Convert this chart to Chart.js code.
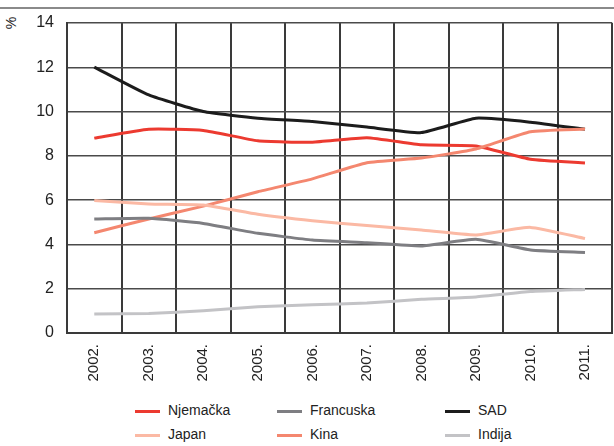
<!DOCTYPE html>
<html>
<head>
<meta charset="utf-8">
<script src="https://cdn.jsdelivr.net/npm/chart.js@4"></script>
<style>
  html, body { margin: 0; padding: 0; background: #fff; }
  body { width: 614px; height: 446px; position: relative; overflow: hidden;
         font-family: "Liberation Sans Narrow", "Arial Narrow", "Liberation Sans", sans-serif; color: #222; }
  #topRule { position: absolute; left: 0; top: 7px; width: 614px; height: 0; border-top: 2px solid #8a8a8a; }
  #unit { position: absolute; left: 5px; top: 15px; font-size: 14px; transform: rotate(-90deg); transform-origin: center; }
  #wrap { position: absolute; left: 0; top: 0; width: 614px; height: 400px; }
  #legend { position: absolute; left: 0; top: 402px; width: 614px; }
  .item { position: absolute; font-size: 14px; line-height: 16px; white-space: nowrap; }
  .item span.sw { display: inline-block; width: 25px; height: 3px; vertical-align: middle; margin-right: 8px; }
</style>
</head>
<body>
<div id="topRule"></div>
<div id="unit">%</div>
<div id="wrap"><canvas id="chart"></canvas></div>
<div id="legend"></div>
<script>
const years = ["2002.", "2003.", "2004.", "2005.", "2006.", "2007.", "2008.", "2009.", "2010.", "2011."];
const yTicks = [0, 2, 4, 6, 8, 10, 12, 14];

const njemacka  = [8.8, 9.2, 9.15, 8.68, 8.62, 8.82, 8.5, 8.45, 7.85, 7.68];
const francuska = [5.15, 5.18, 4.95, 4.5, 4.2, 4.08, 3.93, 4.23, 3.75, 3.64];
const sad       = [12.01, 10.75, 10.0, 9.7, 9.55, 9.3, 9.05, 9.7, 9.52, 9.2];
const japan     = [5.98, 5.83, 5.78, 5.36, 5.07, 4.85, 4.65, 4.43, 4.77, 4.27];
const kina      = [4.53, 5.15, 5.73, 6.38, 6.96, 7.69, 7.9, 8.31, 9.09, 9.21];
const indija    = [0.86, 0.88, 1.0, 1.18, 1.28, 1.35, 1.52, 1.63, 1.87, 1.97];

const series = [
  { label: "Njemačka",  data: njemacka,  color: "#ec3a30" },
  { label: "Francuska", data: francuska, color: "#7e7e82" },
  { label: "SAD",       data: sad,       color: "#1c1c1c" },
  { label: "Japan",     data: japan,     color: "#fbb9a4" },
  { label: "Kina",      data: kina,      color: "#f4876f" },
  { label: "Indija",    data: indija,    color: "#c3c3c6" }
];

// draw order: light lines first, dark on top
const drawOrder = [5, 3, 1, 4, 0, 2];

new Chart(document.getElementById("chart"), {
  type: "line",
  data: {
    labels: years,
    datasets: series.map((s, i) => ({
      label: s.label,
      data: s.data,
      borderColor: s.color,
      backgroundColor: s.color,
      borderWidth: 3,
      pointRadius: 0,
      fill: false,
      tension: 0.15,
      order: drawOrder.indexOf(i)
    }))
  },
  options: {
    responsive: true,
    maintainAspectRatio: false,
    animation: false,
    layout: { padding: { top: 23, right: 0, left: 0, bottom: 0 } },
    plugins: { legend: { display: false }, tooltip: { enabled: false } },
    scales: {
      x: {
        offset: true,
        grid: { color: "#3a3a3a", lineWidth: 2, offset: true, drawTicks: false },
        border: { color: "#3a3a3a", width: 2 },
        ticks: {
          minRotation: 90, maxRotation: 90, padding: 11,
          color: "#222",
          font: { family: "Liberation Sans Narrow, Arial Narrow, sans-serif", size: 15 }
        },
        afterFit: scale => { scale.height = 67; }
      },
      y: {
        min: 0, max: 14,
        afterBuildTicks: scale => { scale.ticks = yTicks.map(v => ({ value: v })); },
        grid: { color: "#4a4a4a", lineWidth: 1.5, drawTicks: false },
        border: { color: "#3a3a3a", width: 2 },
        ticks: {
          padding: 13, color: "#222",
          font: { family: "Liberation Sans Narrow, Arial Narrow, sans-serif", size: 16 }
        },
        afterFit: scale => { scale.width = 67; }
      }
    }
  }
});

// custom legend, 3 columns x 2 rows
const legendPos = [[135, 0], [277, 0], [445, 0], [135, 24], [277, 24], [445, 24]];
const legend = document.getElementById("legend");
series.forEach((s, i) => {
  const el = document.createElement("div");
  el.className = "item";
  el.style.left = legendPos[i][0] + "px";
  el.style.top = legendPos[i][1] + "px";
  el.innerHTML = '<span class="sw" style="background:' + s.color + '"></span>' + s.label;
  legend.appendChild(el);
});
</script>
</body>
</html>
